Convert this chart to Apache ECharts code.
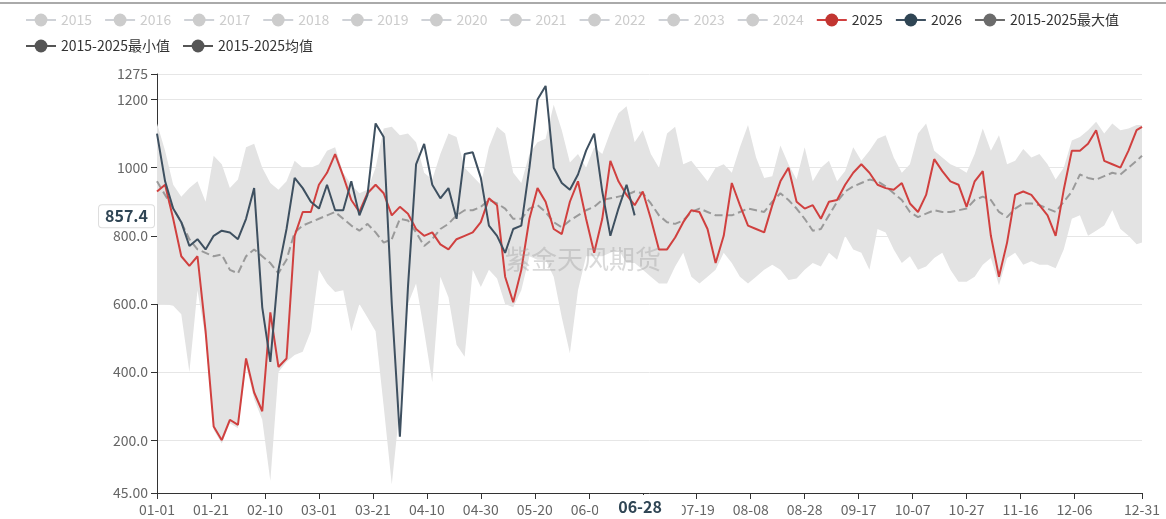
<!DOCTYPE html>
<html><head><meta charset="utf-8">
<script src="https://cdn.jsdelivr.net/npm/echarts@6/dist/echarts.min.js"></script>
<style>html,body{margin:0;padding:0;background:#fff}#c{width:1166px;height:519px}</style>
</head><body><div id="c"></div>
<script>
// ---- categories (leap-year calendar, MM-DD) ----
const monthDays = [31,29,31,30,31,30,31,31,30,31,30,31];
const categories = [];
monthDays.forEach((n, m) => { for (let d = 1; d <= n; d++) categories.push(String(m+1).padStart(2,'0') + '-' + String(d).padStart(2,'0')); });
const tickLabels = ['01-01','01-21','02-10','03-01','03-21','04-10','04-30','05-20','06-09','06-29','07-19','08-08','08-28','09-17','10-07','10-27','11-16','12-06','12-31'];
const STEP = 3; // values read every 3 days

const years = ['2015','2016','2017','2018','2019','2020','2021','2022','2023','2024'];

const v2025 = [930,950,850,740,712,740,520,240,200,260,245,440,340,285,575,415,440,800,870,870,
950,985,1040,975,905,870,925,950,925,860,885,865,820,800,810,775,760,790,800,810,
840,910,890,680,605,700,850,940,900,820,805,900,960,850,750,850,1020,960,920,890,
930,850,760,760,795,840,875,870,820,720,800,955,890,830,820,810,890,960,1000,900,
880,890,850,900,905,950,985,1010,985,950,940,935,955,895,870,920,1025,990,960,950,
885,960,990,800,680,780,920,930,920,890,860,800,935,1050,1050,1070,1110,1020,1010,1000,1050,1110,1120];

const v2026 = [1100,960,880,840,770,790,760,800,815,810,790,850,940,590,430,700,820,970,940,900,
880,950,875,875,960,860,920,1130,1090,600,210,650,1010,1070,950,910,940,850,1040,1045,
970,830,800,750,820,830,1000,1200,1240,1000,955,935,980,1050,1100,930,800,880,950,860];

const vMean = [960,920,880,840,790,760,750,740,745,700,690,740,760,740,720,690,730,810,830,840,
850,860,870,850,830,815,835,810,780,790,850,845,810,770,790,820,835,860,875,875,
885,905,895,880,850,850,880,890,870,840,825,845,860,875,885,905,910,915,920,930,
925,895,860,840,835,845,870,880,870,860,860,860,870,880,875,870,900,925,905,880,
850,815,820,860,900,930,945,955,965,960,945,925,905,870,855,865,875,870,870,875,
880,905,915,905,870,855,880,895,895,890,880,870,900,930,980,970,965,975,985,980,1000,1020,1035];

const vMax = [1130,1050,950,915,940,960,900,1035,1010,940,965,1060,1070,1000,955,935,960,1020,1000,1000,
1010,1050,1060,985,950,925,935,1000,1115,1120,1095,1100,1075,985,965,1040,1100,1090,1000,975,
950,1060,1120,1100,985,955,1040,1075,1085,1185,1110,1015,1040,1000,1060,1040,1105,1160,1180,1075,
1110,1040,1000,1100,1120,1010,1020,990,960,1000,1010,985,1060,1125,1030,970,975,1065,1010,965,
1060,960,1000,1020,960,990,1060,1020,1050,1085,1095,1030,985,1010,1100,1130,1050,1030,1010,1000,
985,1040,1115,1050,1095,1010,1020,1055,1030,1040,1010,965,1000,1080,1090,1110,1135,1100,1130,1110,1115,1125,1125];

const vMin = [600,600,595,570,400,640,500,230,190,250,235,420,320,260,80,400,430,450,460,520,
700,660,635,640,520,600,560,520,300,70,300,600,660,520,370,680,620,480,445,700,
650,700,675,600,590,640,740,730,730,680,560,455,640,740,740,740,750,760,720,720,
700,680,660,660,710,750,680,660,680,700,750,720,680,660,680,700,715,700,670,675,
700,720,710,750,730,800,760,750,700,820,810,760,720,740,700,710,735,750,700,665,
665,680,715,735,655,735,750,715,725,715,715,705,760,850,860,800,815,830,875,820,800,775,780];

const pointerX = '06-28';
const pointerY = 857.4;

// ---- build ----
const last = categories.length - 1;
const pairs = arr => arr.map((v, k) => [Math.min(k * STEP, last), v]);
const bandTop = vMax.map((v, k) => v - vMin[k]);
const FONT = "'Noto Sans CJK SC','Noto Sans',sans-serif";
const showTick = idx => tickLabels.indexOf(categories[idx]) >= 0;

const series = years.map(y => ({ name: y, type: 'line', data: [], symbol: 'circle', showSymbol: false }));
series.push(
  { name: '2025', type: 'line', data: pairs(v2025), symbol: 'circle', showSymbol: false, z: 3,
    itemStyle: { color: '#c23531' }, lineStyle: { color: '#d0403f', width: 2 } },
  { name: '2026', type: 'line', data: pairs(v2026), symbol: 'circle', showSymbol: false, z: 4,
    itemStyle: { color: '#2f4554' }, lineStyle: { color: '#3e5060', width: 2 } },
  { name: '2015-2025最小值', type: 'line', data: pairs(vMin), stack: 'band', symbol: 'circle', showSymbol: false, z: 1,
    itemStyle: { color: '#555' }, lineStyle: { opacity: 0 } },
  { name: '2015-2025最大值', type: 'line', data: pairs(bandTop), stack: 'band', symbol: 'circle', showSymbol: false, z: 1,
    itemStyle: { color: '#6b6b6b' }, lineStyle: { opacity: 0 }, areaStyle: { color: '#e3e3e3', opacity: 1 } },
  { name: '2015-2025均值', type: 'line', data: pairs(vMean), symbol: 'circle', showSymbol: false, z: 2,
    itemStyle: { color: '#555' }, lineStyle: { color: '#9a9a9a', width: 2, type: 'dashed' } }
);

const selected = {}; years.forEach(y => selected[y] = false);
const legendData = years.concat(['2025','2026']).map(n => ({ name: n }));
legendData.push({ name: '2015-2025最大值', lineStyle: { color: '#6b6b6b', opacity: 1 } });
legendData.push({ name: '2015-2025最小值', lineStyle: { color: '#555', opacity: 1 } });
legendData.push({ name: '2015-2025均值', lineStyle: { color: '#555', opacity: 1, type: 'solid' } });

const chart = echarts.init(document.getElementById('c'));
chart.setOption({
  animation: false,
  textStyle: { fontFamily: FONT },
  legend: { left: 20, top: 8, width: 1130, itemWidth: 30, itemHeight: 16, itemGap: 12,
    textStyle: { fontSize: 14, color: '#333', fontFamily: FONT }, inactiveColor: '#ccc',
    data: legendData, selected: selected },
  grid: { left: 157, right: 24, top: 74, bottom: 26 },
  xAxis: {
    type: 'category', data: categories, boundaryGap: false,
    axisLine: { lineStyle: { color: '#333' } },
    axisTick: { interval: showTick, length: 6, lineStyle: { color: '#333' } },
    axisLabel: { interval: showTick, color: '#666', fontSize: 14, margin: 10, fontFamily: FONT },
    splitLine: { show: false },
    axisPointer: { show: true, status: 'show', value: categories.indexOf(pointerX), type: 'line',
      lineStyle: { opacity: 0 },
      label: { show: true, backgroundColor: '#fff', color: '#2f4554', fontWeight: 'bold', fontSize: 16,
        padding: [4, 20, 4, 20], borderWidth: 0, shadowBlur: 0, fontFamily: FONT, margin: 6 } }
  },
  yAxis: {
    type: 'value', min: 45, max: 1275,
    axisLine: { show: true, lineStyle: { color: '#333' } },
    axisTick: { show: true, length: 6, lineStyle: { color: '#333' } },
    axisLabel: { color: '#666', fontSize: 14, margin: 9, fontFamily: FONT, formatter: v => Number(v).toPrecision(4) },
    splitLine: { lineStyle: { color: '#e6e6e6' } },
    axisPointer: { show: true, status: 'show', value: pointerY, type: 'line',
      lineStyle: { opacity: 0 },
      label: { show: true, precision: 1, backgroundColor: '#fff', color: '#2f4554', fontWeight: 'bold', fontSize: 16,
        padding: [3, 6, 3, 6], borderColor: '#ddd', borderWidth: 1, shadowBlur: 0, fontFamily: FONT } }
  },
  graphic: [
    { type: 'line', shape: { x1: 0, y1: 3, x2: 1166, y2: 3 }, style: { stroke: '#aaa', lineWidth: 2 } },
    { type: 'text', left: 505, top: 246, z: 100, silent: true,
      style: { text: '紫金天风期货', fontSize: 26, fill: 'rgba(150,150,150,0.35)', fontFamily: FONT } }
  ],
  series: series
});
</script></body></html>
